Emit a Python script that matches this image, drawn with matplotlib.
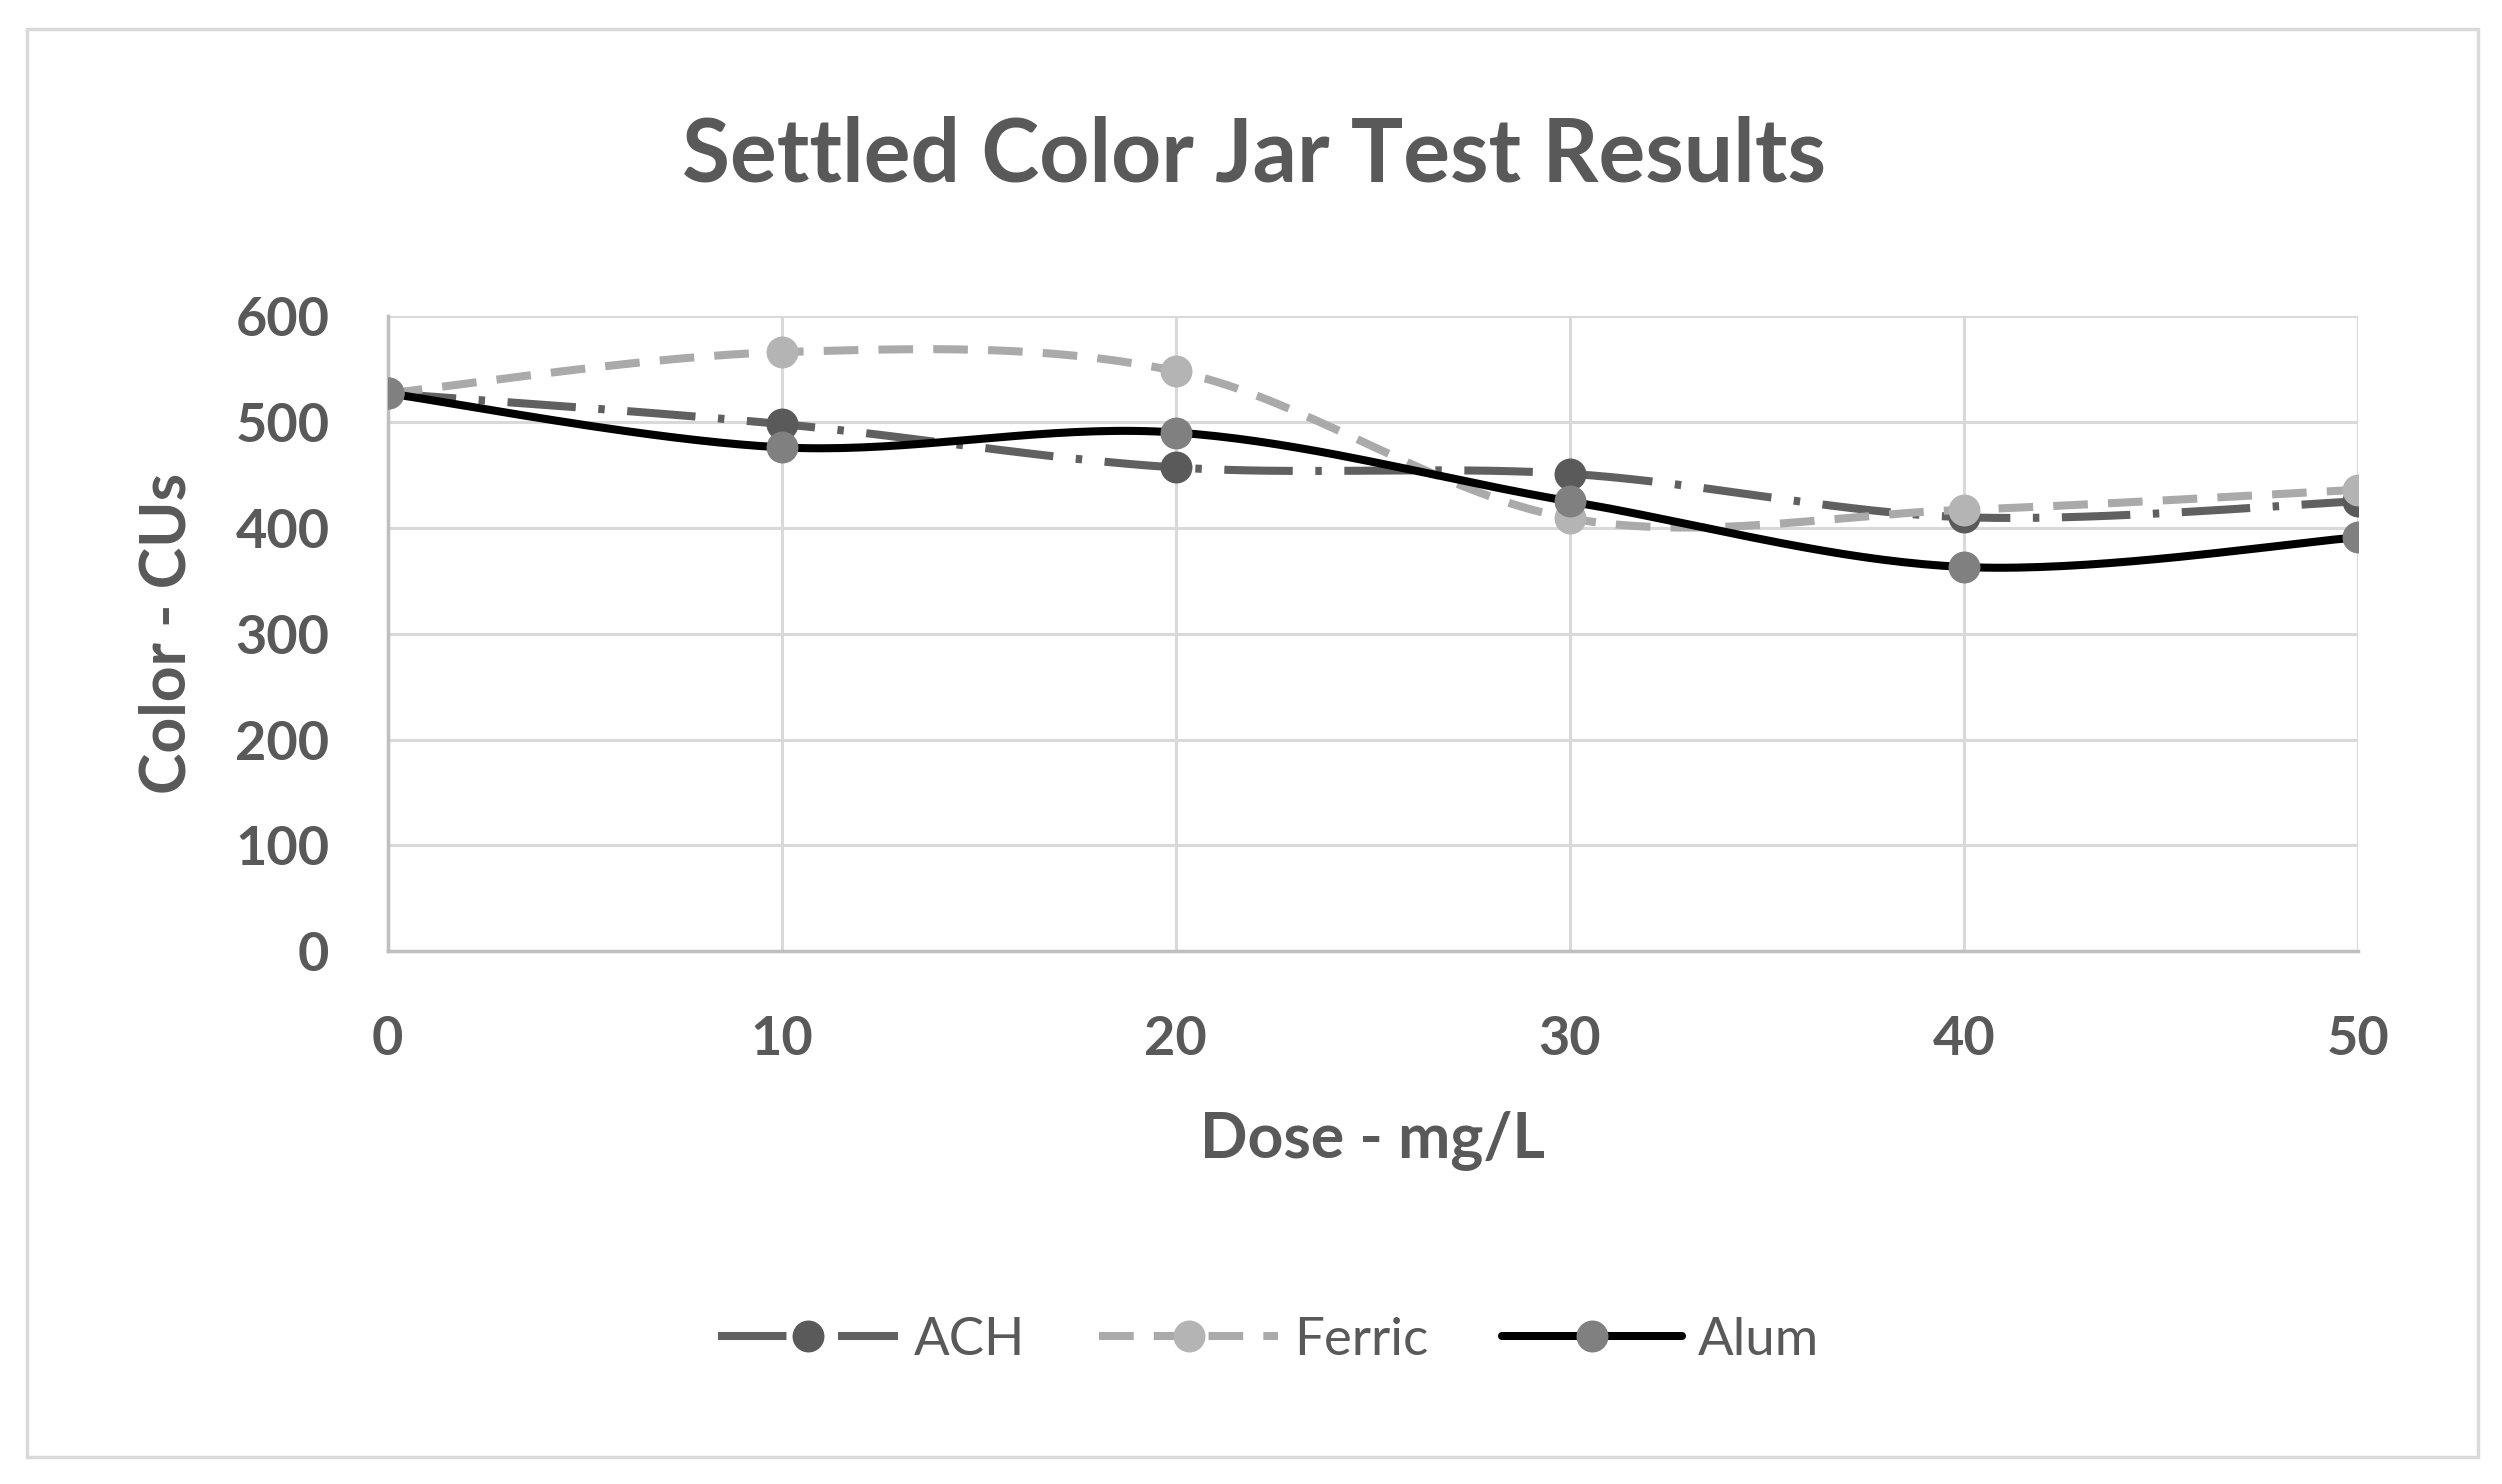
import numpy as np
import matplotlib
matplotlib.use("Agg")
import matplotlib.pyplot as plt
from matplotlib.patches import Rectangle

# data
dose = [0, 10, 20, 30, 40, 50]
ach = [527, 498, 457, 451, 410, 425]
ferric = [527, 566, 548, 409, 417, 436]
alum = [527, 476, 490, 425, 363, 391]

plt.rcParams['font.family'] = ['Lato', 'DejaVu Sans']
TXT = '#595959'


def smooth(x, y, n=40):
    # Excel style smoothed line: cubic bezier with catmull-rom control points
    x = np.asarray(x, float)
    y = np.asarray(y, float)
    px = np.concatenate([[x[0]], x, [x[-1]]])
    py = np.concatenate([[y[0]], y, [y[-1]]])
    t = np.linspace(0, 1, n)
    xs, ys = [], []
    for i in range(1, len(x)):
        p0 = np.array([px[i], py[i]])
        p3 = np.array([px[i + 1], py[i + 1]])
        c1 = p0 + (p3 - np.array([px[i - 1], py[i - 1]])) / 6
        c2 = p3 - (np.array([px[i + 2], py[i + 2]]) - p0) / 6
        b = ((1 - t) ** 3)[:, None] * p0 + (3 * (1 - t) ** 2 * t)[:, None] * c1 \
            + (3 * (1 - t) * t ** 2)[:, None] * c2 + (t ** 3)[:, None] * p3
        xs.append(b[:, 0])
        ys.append(b[:, 1])
    return np.concatenate(xs), np.concatenate(ys)


fig = plt.figure(figsize=(25.02, 14.84), dpi=100)
ax = fig.add_axes([0.155, 0.359, 0.7874, 0.428])

# outer chart border
fig.patches.append(Rectangle((27 / 2502, 1 - 1457 / 1484), 2451 / 2502, 1428 / 1484,
                             transform=fig.transFigure, fill=False,
                             edgecolor='#d9d9d9', lw=2.5))

LW = 5.8
MS = 23
series = [
    ('ACH', ach, '#606060', '#5a5a5a', (8.5, 2.8, 0.8, 2.8)),
    ('Ferric', ferric, '#aaaaaa', '#b4b4b4', (4.3, 2.5)),
    ('Alum', alum, '#000000', '#808080', None),
]

handles = []
for name, vals, lc, mc, dash in series:
    sx, sy = smooth(dose, vals)
    ln, = ax.plot(sx, sy, color=lc, lw=LW, solid_capstyle='round',
                  dash_capstyle='butt', zorder=3)
    if dash is not None:
        ln.set_dashes(dash)
    ax.plot(dose, vals, ls='none', marker='o', ms=MS, color=mc,
            markeredgewidth=0, zorder=4)
    h, = ax.plot([], [], color=lc, lw=LW, marker='o', ms=MS,
                 markerfacecolor=mc, markeredgewidth=0,
                 solid_capstyle='round', label=name)
    if dash is not None:
        h.set_dashes(dash)
    handles.append(h)

ax.set_xlim(0, 50)
ax.set_ylim(0, 600)
ax.set_xticks(dose)
ax.set_yticks(range(0, 601, 100))
ax.grid(True, color='#d9d9d9', lw=2.2, zorder=0)
ax.set_axisbelow(True)
for s in ['top', 'right']:
    ax.spines[s].set_visible(False)
for s in ['left', 'bottom']:
    ax.spines[s].set_color('#bfbfbf')
    ax.spines[s].set_linewidth(2.5)
ax.tick_params(length=0, labelsize=39, labelcolor=TXT)
ax.tick_params(axis='x', pad=46)
ax.tick_params(axis='y', pad=42)
for lbl in ax.get_xticklabels() + ax.get_yticklabels():
    lbl.set_fontweight('bold')

ax.set_xlabel('Dose - mg/L', fontsize=45, fontweight='bold', color=TXT, labelpad=33)
ax.set_ylabel('Color - CUs', fontsize=45, fontweight='bold', color=TXT, labelpad=28)

fig.text(0.501, 1 - 156 / 1484, 'Settled Color Jar Test Results', ha='center',
         va='center', fontsize=63, fontweight='bold', color=TXT)

leg = fig.legend(handles=handles, loc='center', bbox_to_anchor=(0.507, 0.097),
                 ncol=3, frameon=False, fontsize=38, handlelength=3.4,
                 handletextpad=0.3, columnspacing=1.4, numpoints=1)
for t in leg.get_texts():
    t.set_color(TXT)

fig.savefig('out.png', dpi=100)
